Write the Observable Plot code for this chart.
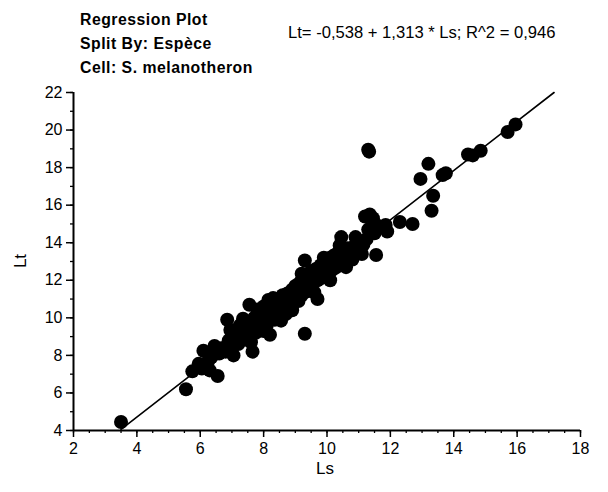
<!DOCTYPE html>
<html>
<head>
<meta charset="utf-8">
<script src="https://cdn.jsdelivr.net/npm/d3@7"></script>
<script src="https://cdn.jsdelivr.net/npm/@observablehq/plot@0.6"></script>
<style>
  body { margin: 0; background: white; }
  #wrap { position: relative; width: 608px; height: 492px; font-family: "Liberation Sans", Arial, sans-serif; color: black; }
  #wrap svg { position: absolute; left: 0; top: 0; }
  .t { position: absolute; white-space: nowrap; }
  #title { left: 80px; top: 8px; font-weight: bold; font-size: 15.8px; line-height: 24px; letter-spacing: 0.5px; }
  #eq { left: 288px; top: 23px; font-size: 16.6px; line-height: 20px; }
  #xl { left: 316px; top: 459px; font-size: 17px; }
  #yl { left: 14px; top: 251px; font-size: 17px; transform: rotate(-90deg); transform-origin: center; }
</style>
</head>
<body>
<div id="wrap">
  <div class="t" id="title">Regression Plot<br>Split By: Espèce<br>Cell: S. melanotheron</div>
  <div class="t" id="eq">Lt= -0,538 + 1,313 * Ls; R^2 = 0,946</div>
  <div class="t" id="xl">Ls</div>
  <div class="t" id="yl">Lt</div>
</div>
<script>
// Observed points (Ls, Lt)
const ls = [3.5,5.55,5.75,5.95,6.05,6.1,6.25,6.35,6.45,6.55,6.6,6.7,6.8,6.85,6.9,7.0,7.0,7.1,7.15,7.2,7.25,7.3,7.35,7.4,7.45,7.5,7.55,7.55,7.6,7.65,7.7,7.7,7.75,7.8,7.85,7.9,7.95,8.0,8.0,8.05,8.1,8.15,8.15,8.2,8.2,8.25,8.3,8.35,8.4,8.4,8.45,8.5,8.5,8.55,8.6,8.6,8.65,8.7,8.7,8.75,8.8,8.85,8.9,8.9,8.95,9.0,9.0,9.05,9.1,9.1,9.15,9.2,9.2,9.25,9.3,9.3,9.3,9.35,9.4,9.4,9.45,9.5,9.5,9.55,9.6,9.65,9.7,9.7,9.75,9.8,9.8,9.85,9.9,9.9,9.95,10.0,10.0,10.05,10.1,10.1,10.15,10.2,10.2,10.25,10.3,10.3,10.35,10.4,10.45,10.45,10.5,10.55,10.6,10.65,10.7,10.75,10.8,10.85,10.9,11.0,11.05,11.15,11.2,11.25,11.3,11.3,11.33,11.35,11.45,11.5,11.55,11.6,11.85,11.9,12.3,12.7,12.95,13.2,13.3,13.35,13.65,13.75,14.45,14.6,14.85,15.7,15.95,
  6.95,7.35,7.8,8.3,8.55,8.9,9.2,9.6,9.9,10.1,10.4,10.6,10.9,11.1,7.6,7.05,6.3,8.0];
const lt = [4.45,6.2,7.15,7.55,7.3,8.25,7.7,7.9,8.5,6.9,8.1,8.4,8.2,9.9,8.8,8.5,9.2,8.9,9.3,8.6,9.6,9.0,9.4,8.85,9.8,9.2,10.7,9.6,9.35,8.2,10.0,9.6,9.2,9.9,10.3,9.55,10.1,9.8,10.6,10.2,9.6,10.95,10.4,9.1,10.0,10.7,10.3,9.9,10.8,10.45,10.1,11.0,10.6,10.3,11.2,10.75,10.4,11.0,10.2,11.3,10.8,11.1,11.5,10.7,11.25,11.7,11.0,11.4,11.8,10.9,11.55,12.0,11.2,11.7,13.05,9.15,12.1,11.4,11.9,12.3,11.6,12.1,12.5,11.8,12.3,12.6,11.0,12.0,12.4,12.8,12.1,12.5,12.9,12.2,12.7,13.0,12.3,12.6,13.2,12.45,12.9,13.3,12.6,13.0,13.4,12.7,13.1,12.85,14.3,13.35,13.0,13.5,13.2,13.7,13.3,13.55,13.1,13.8,13.4,13.85,13.6,13.9,15.4,14.2,14.7,18.95,18.85,15.5,15.3,14.5,13.35,14.9,14.95,14.6,15.1,15.0,17.4,18.2,15.7,16.5,17.6,17.7,18.7,18.65,18.9,19.9,20.3,
  9.35,9.95,10.45,11.05,9.85,10.4,12.35,11.35,13.2,12.0,13.85,12.7,14.3,13.4,8.7,8.0,7.2,9.3];

// Regression coefficients (from the equation shown)
const intercept = -0.538;
const slope = 1.313;

const xMajor = [2,4,6,8,10,12,14,16,18];
const yMajor = [4,6,8,10,12,14,16,18,20,22];
const xMinor = d3.range(2, 18.001, 0.5);
const yMinor = d3.range(4, 22.001, 1);

const pts = ls.map((x, i) => ({x, y: lt[i]}));
const xStart = d3.min(ls);
const xEnd = (22 - intercept) / slope;
const reg = [xStart, xEnd].map(x => ({x, y: intercept + slope * x}));

const chart = Plot.plot({
  width: 608,
  height: 492,
  marginLeft: 73,
  marginRight: 28,
  marginTop: 92,
  marginBottom: 62,
  x: {domain: [2, 18]},
  y: {domain: [4, 22]},
  style: {fontFamily: "'Liberation Sans', Arial, sans-serif", fontSize: "16px", color: "black", background: "transparent"},
  marks: [
    Plot.axisX({ticks: xMinor, tickSize: 3, tickFormat: () => "", label: null, strokeWidth: 1.3}),
    Plot.axisX({ticks: xMajor, tickSize: 7, tickPadding: 5, label: null, strokeWidth: 1.5, fontSize: 16}),
    Plot.axisY({ticks: yMinor, tickSize: 3, tickFormat: () => "", label: null, strokeWidth: 1.3}),
    Plot.axisY({ticks: yMajor, tickSize: 7, tickPadding: 4, label: null, strokeWidth: 1.5, fontSize: 16}),
    Plot.ruleY([4], {strokeWidth: 2}),
    Plot.ruleX([2], {strokeWidth: 2}),
    Plot.line(reg, {x: "x", y: "y", stroke: "black", strokeWidth: 1.6}),
    Plot.dot(pts, {x: "x", y: "y", r: 7, fill: "black", stroke: "none"})
  ]
});
document.getElementById("wrap").prepend(chart);
</script>
</body>
</html>
